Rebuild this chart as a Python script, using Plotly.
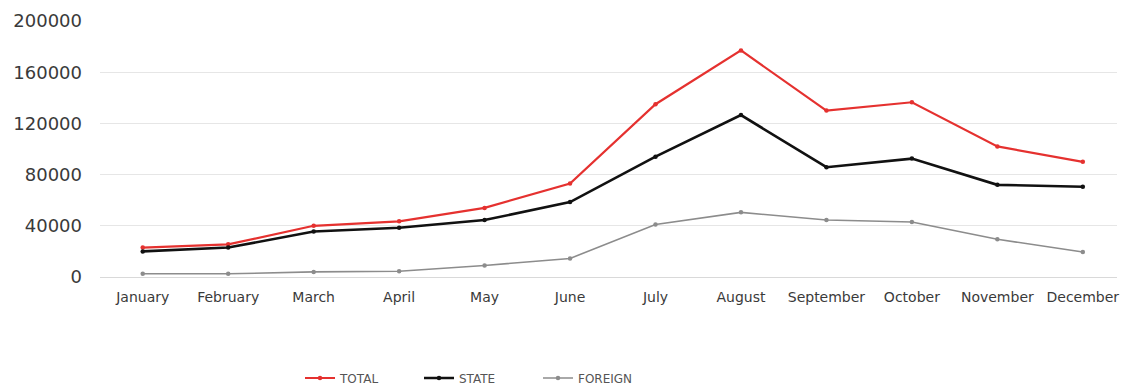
import plotly.graph_objects as go

months = ["January", "February", "March", "April", "May", "June", "July",
          "August", "September", "October", "November", "December"]
total = [23000, 25500, 40000, 43500, 54000, 73000, 135000, 177000, 130000, 136500, 102000, 90000]
state = [20000, 23000, 35500, 38500, 44500, 58500, 94000, 126500, 85800, 92500, 72000, 70500]
foreign = [2500, 2500, 4000, 4500, 9000, 14500, 41000, 50500, 44500, 43000, 29500, 19500]
y_ticks = [0, 40000, 80000, 120000, 160000, 200000]

x_idx = list(range(len(months)))

fig = go.Figure()
series = [
    ("TOTAL", total, "#e5312f", 2.2),
    ("STATE", state, "#111111", 2.6),
    ("FOREIGN", foreign, "#8c8c8c", 1.6),
]
for name, vals, color, width in series:
    fig.add_trace(go.Scatter(
        x=x_idx, y=vals, name=name, mode="lines+markers",
        line=dict(color=color, width=width),
        marker=dict(color=color, size=4.5),
    ))

fig.update_layout(
    width=1128, height=388,
    margin=dict(l=100, r=11, t=21, b=111, autoexpand=False),
    paper_bgcolor="white", plot_bgcolor="white",
    font=dict(family="DejaVu Sans, sans-serif", color="#333333"),
    showlegend=True,
    legend=dict(orientation="h", xref="container", x=300 / 1128, xanchor="left",
                yref="container", y=1 - 378 / 388, yanchor="middle",
                font=dict(size=12, color="#555555"), entrywidth=74,
                itemwidth=30),
)
fig.update_xaxes(
    range=[-0.5, 11.4], tickmode="array", tickvals=x_idx, ticktext=months,
    showgrid=False, zeroline=False, showline=False,
    tickfont=dict(size=14, color="#3a3a3a"), ticks="", ticklabelstandoff=10,
)
fig.update_yaxes(
    range=[0, 200000], tickmode="array", tickvals=y_ticks,
    ticktext=[str(v) for v in y_ticks],
    showgrid=True, gridcolor="#e6e6e6", gridwidth=1,
    zeroline=True, zerolinecolor="#d9d9d9", zerolinewidth=1,
    tickfont=dict(size=18, color="#3a3a3a"), ticks="", ticklabelstandoff=17,
)

fig.write_html("out.html")
